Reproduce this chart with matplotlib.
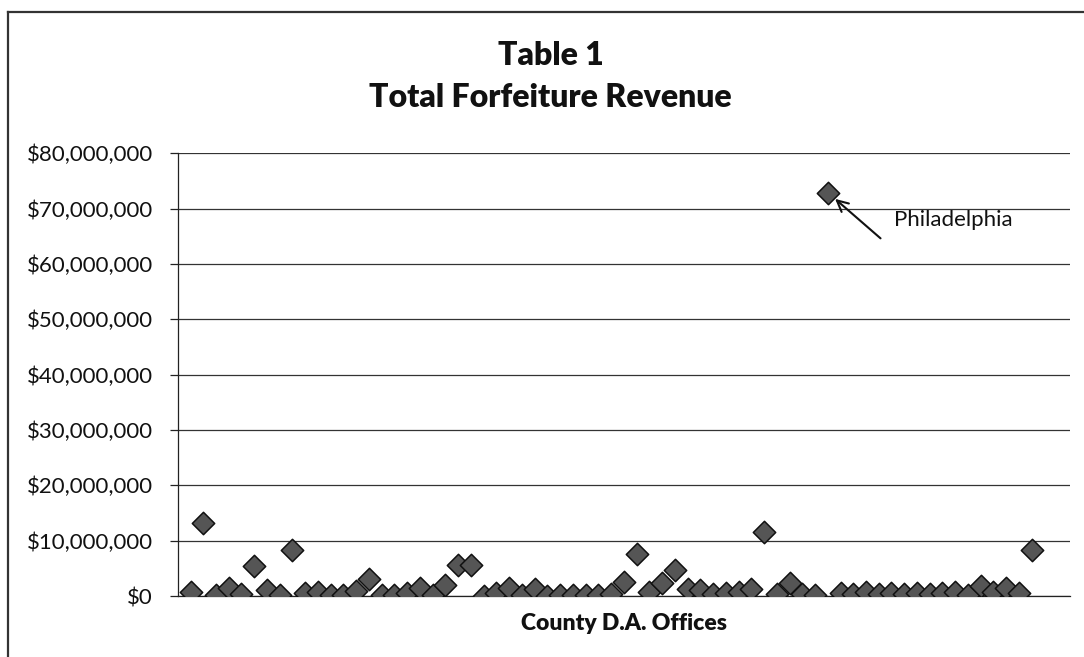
import matplotlib
matplotlib.use('Agg')
import matplotlib.pyplot as plt
from matplotlib.ticker import FuncFormatter, MultipleLocator
from matplotlib.lines import Line2D

plt.rcParams['font.family'] = ['Lato', 'DejaVu Sans']

# county index (alphabetical order, 1..67) and forfeiture revenue in $ millions
county_idx = list(range(1, 68))
revenue_m = [
    0.8, 13.2, 0.1, 1.4, 0.3, 5.4, 1.0, 0.1, 8.3, 0.5,
    0.7, 0.2, 0.1, 0.9, 3.1, 0.1, 0.2, 0.6, 1.5, 0.2,
    2.0, 5.6, 5.6, 0.0, 0.6, 1.5, 0.1, 1.2, 0.0, 0.1,
    0.1, 0.2, 0.1, 0.3, 2.6, 7.6, 0.7, 2.3, 4.7, 1.2,
    1.1, 0.3, 0.5, 0.8, 1.2, 11.6, 0.3, 2.4, 0.3, 0.2,
    72.9, 0.5, 0.3, 0.8, 0.4, 0.5, 0.4, 0.5, 0.3, 0.5,
    0.7, 0.2, 1.8, 0.7, 1.4, 0.6, 8.4,
]
highlight_idx = 51
highlight_name = 'Philadelphia'
title_lines = ['Table 1', 'Total Forfeiture Revenue']
x_label = 'County D.A. Offices'

revenue = [v * 1e6 for v in revenue_m]

fig = plt.figure(figsize=(10.84, 6.57), dpi=100)
ax = fig.add_axes([0.164, 0.0928, 0.823, 0.674])

ax.scatter(county_idx, revenue, marker='D', s=130, facecolor='#555555',
           edgecolor='#111111', linewidth=1.1, zorder=3)

ax.set_xlim(0, 70)
ax.set_ylim(0, 80e6)
ax.yaxis.set_major_locator(MultipleLocator(10e6))
ax.yaxis.set_major_formatter(FuncFormatter(lambda v, p: '${:,.0f}'.format(v)))
ax.grid(axis='y', color='#333333', linewidth=0.9, zorder=0)
ax.set_xticks([])
ax.tick_params(axis='y', direction='out', length=6, width=0.9, color='#222222',
               labelsize=16, pad=12, labelcolor='#111111')
for side in ('top', 'right'):
    ax.spines[side].set_visible(False)
for side in ('left', 'bottom'):
    ax.spines[side].set_color('#222222')
    ax.spines[side].set_linewidth(0.9)

ax.set_xlabel(x_label, fontsize=16.5, fontweight='heavy', labelpad=12, color='#111111')

# Philadelphia callout
hx = county_idx[highlight_idx - 1]
hy = revenue[highlight_idx - 1]
ax.annotate('', xy=(hx, hy), xycoords='data', xytext=(38, -33),
            textcoords='offset points',
            arrowprops=dict(arrowstyle='->', color='#111111', lw=1.5,
                            shrinkA=0, shrinkB=7, mutation_scale=20))
ax.annotate(highlight_name, xy=(hx, hy), xycoords='data', xytext=(48, -20),
            textcoords='offset points', ha='left', va='center',
            fontsize=16, color='#111111')

fig.text(0.508, 0.916, title_lines[0], ha='center', va='center',
         fontsize=23, fontweight='heavy', color='#111111')
fig.text(0.508, 0.851, title_lines[1], ha='center', va='center',
         fontsize=23, fontweight='heavy', color='#111111')

# chart-area border (top and left edges visible in the scan)
fig.add_artist(Line2D([0.007, 1.0], [0.982, 0.982], transform=fig.transFigure,
                      color='#333333', linewidth=1.6))
fig.add_artist(Line2D([0.007, 0.007], [0.0, 0.982], transform=fig.transFigure,
                      color='#333333', linewidth=1.6))

fig.savefig('out.png', dpi=100)
